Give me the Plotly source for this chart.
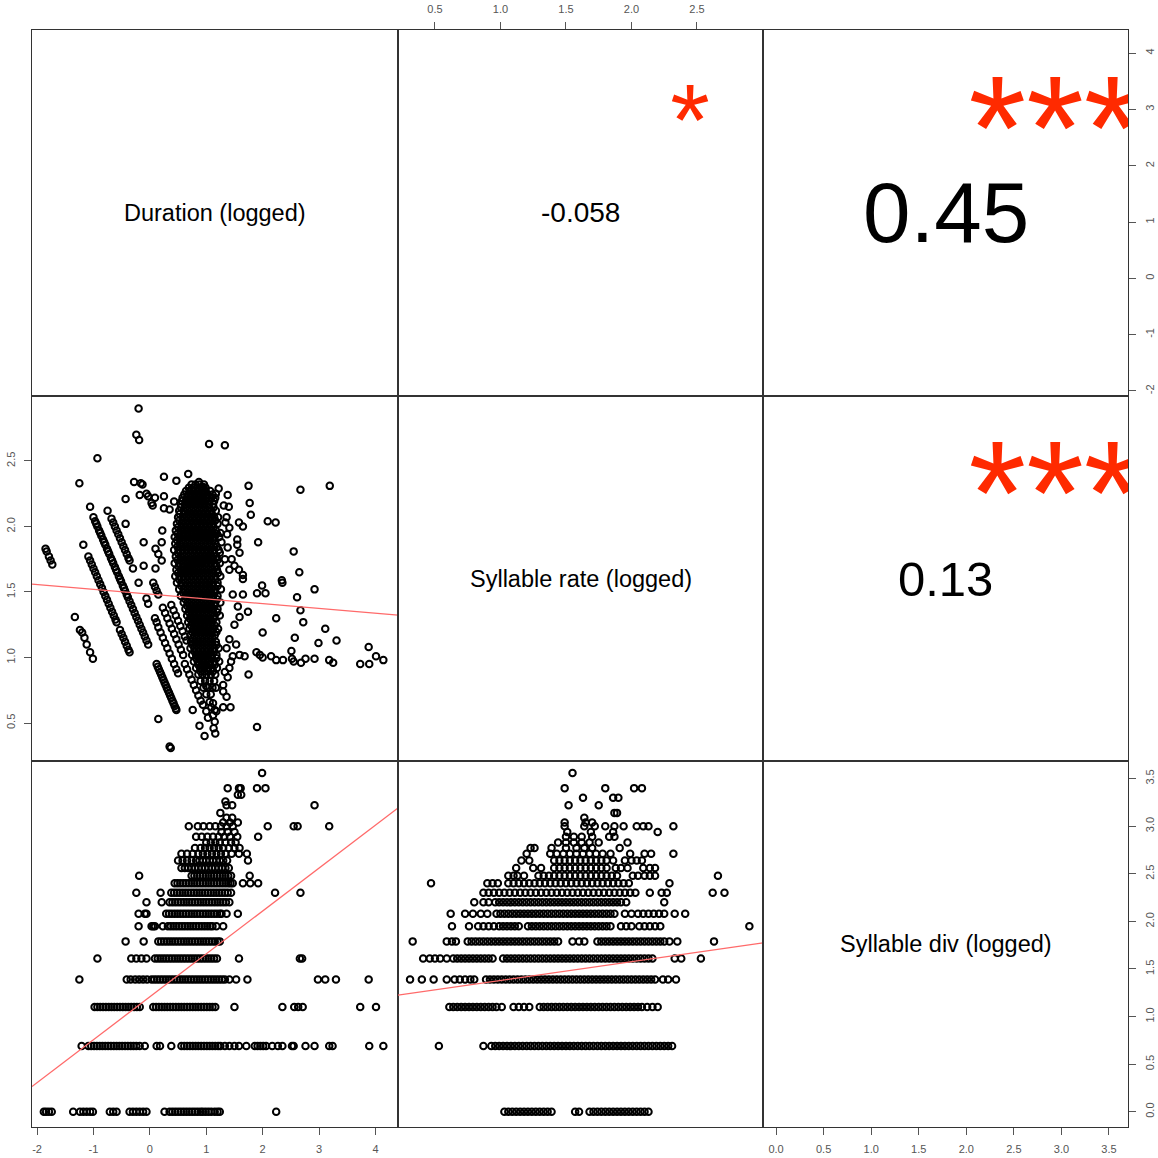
import plotly.graph_objects as go

# ---------------- labels / statistics ----------------
var_labels = ["Duration (logged)", "Syllable rate (logged)", "Syllable div (logged)"]
cor_cells = [(0, 1), (0, 2), (1, 2)]
cor_text = ["-0.058", "0.45", "0.13"]
cor_stars = ["*", "***", "***"]

dur_ticks = [-2, -1, 0, 1, 2, 3, 4]
dur_tick_text = ["-2", "-1", "0", "1", "2", "3", "4"]
rate_ticks = [0.5, 1.0, 1.5, 2.0, 2.5]
rate_tick_text = ["0.5", "1.0", "1.5", "2.0", "2.5"]
div_ticks = [0.0, 0.5, 1.0, 1.5, 2.0, 2.5, 3.0, 3.5]
div_tick_text = ["0.0", "0.5", "1.0", "1.5", "2.0", "2.5", "3.0", "3.5"]

# linear fits: [intercept, slope]
fit_rate_on_dur = [1.484, -0.0365]
fit_div_on_dur = [1.208, 0.4507]
fit_div_on_rate = [1.183, 0.197]

# ---------------- panel: duration (x) vs syllable rate (y) ----------------
left_runs = [(-1.85,1.83),(-1.83,1.81),(-1.79,1.77),(-1.76,1.74),(-1.73,1.71),
 (-1.33,1.31),(-1.24,1.21),(-1.20,1.19),(-1.16,1.15),(-1.12,1.10),(-1.06,1.04),(-1.01,0.99),
 (-1.09,1.77),(-1.06,1.74),(-1.03,1.71),(-1.00,1.68),(-0.97,1.65),(-0.94,1.62),(-0.91,1.59),(-0.88,1.56),(-0.85,1.53),(-0.82,1.50),(-0.79,1.47),(-0.76,1.44),(-0.73,1.41),(-0.70,1.38),(-0.67,1.35),(-0.64,1.32),(-0.61,1.29),(-0.59,1.27),
 (-0.53,1.21),(-0.50,1.18),(-0.47,1.15),(-0.44,1.12),(-0.41,1.09),(-0.38,1.06),(-0.36,1.04),
 (-1.00,2.07),(-0.97,2.04),(-0.95,2.02),(-0.93,2.00),(-0.90,1.97),(-0.88,1.95),(-0.86,1.93),(-0.83,1.90),(-0.81,1.88),(-0.79,1.86),(-0.76,1.83),(-0.74,1.81),(-0.72,1.79),(-0.69,1.76),(-0.67,1.74),(-0.65,1.72),(-0.62,1.69),(-0.60,1.67),(-0.58,1.65),(-0.55,1.62),(-0.53,1.60),(-0.51,1.58),(-0.48,1.55),(-0.46,1.53),(-0.44,1.51),(-0.41,1.48),(-0.39,1.46),(-0.36,1.43),(-0.33,1.40),(-0.30,1.37),(-0.27,1.34),(-0.24,1.31),(-0.21,1.28),(-0.18,1.25),(-0.15,1.22),(-0.12,1.19),(-0.09,1.16),(-0.06,1.13),(-0.03,1.10),
 (-0.68,2.06),(-0.65,2.03),(-0.62,2.00),(-0.59,1.97),(-0.56,1.94),(-0.53,1.91),(-0.50,1.88),(-0.47,1.85),(-0.44,1.82),(-0.41,1.79),(-0.38,1.76),(-0.36,1.74),(-0.30,1.68),(-0.06,1.45),(-0.03,1.41)]

lower_runs = [(0.09,1.30),(0.12,1.27),(0.15,1.23),(0.19,1.19),(0.23,1.15),(0.27,1.11),(0.31,1.07),(0.35,1.03),(0.39,0.99),(0.43,0.95),(0.47,0.91),(0.50,0.88),
 (0.06,1.57),(0.09,1.54),(0.12,1.51),(0.15,1.48),(0.23,1.38),(0.27,1.34),(0.31,1.30),(0.35,1.26),(0.39,1.22),(0.43,1.18),(0.47,1.14),(0.51,1.10),(0.55,1.06),(0.59,1.02),
 (0.38,1.40),(0.42,1.36),(0.46,1.32),(0.50,1.28),(0.54,1.24),(0.58,1.20),(0.62,1.16),(0.65,1.13),
 (0.12,0.95),(0.14,0.93),(0.16,0.91),(0.18,0.89),(0.20,0.87),(0.22,0.85),(0.24,0.83),(0.26,0.81),(0.28,0.79),(0.30,0.77),(0.32,0.75),(0.34,0.73),(0.36,0.71),(0.38,0.69),(0.40,0.67),(0.42,0.65),(0.44,0.63),(0.46,0.61),(0.47,0.60),
 (0.62,0.95),(0.66,0.91),(0.70,0.87),(0.74,0.83),(0.78,0.79),(0.82,0.75),(0.86,0.71),(0.90,0.67),(0.94,0.64),
 (1.06,0.66),(1.09,0.62),(1.12,0.56),(1.15,0.51)]

upper_singles = [(-1.25,2.33),(-0.93,2.52),(-1.06,2.15),(-1.18,1.86),(-0.75,2.12),(-0.43,2.21),(-0.43,2.02),(-0.11,1.88),(-0.11,1.70),(-0.20,2.90),(-0.24,2.70),(-0.19,2.66),(1.05,2.63),(1.33,2.62),(-0.28,2.34),(-0.16,2.33),(-0.13,2.32),(-0.18,2.24),(-0.06,2.25),(-0.03,2.23),(0.03,2.18),(0.09,2.22),(0.05,2.16),(0.25,2.38),(0.47,2.35),(0.68,2.40),(0.87,2.34),(0.94,2.30),(0.25,2.23),(0.22,1.97),(0.21,1.88),(0.10,1.83),(0.15,1.79),(0.21,1.74),(0.10,1.68),(0.43,2.19),(0.25,2.14),(0.35,2.13),(-0.20,1.57)]

lower_singles = [(0.76,0.60),(0.15,0.53),(0.35,0.32),(0.37,0.31),(0.88,0.48),(0.97,0.40),(1.00,0.59),(1.03,0.54),(1.13,0.46),(1.16,0.42),(1.43,0.62),(1.30,0.62),(1.15,0.60),(1.12,0.65),(1.18,0.59),(1.90,0.47)]

right_singles = [(1.75,2.31),(2.67,2.28),(3.19,2.31),(0.91,2.30),(0.95,2.30),(1.22,2.29),(1.17,2.25),(1.38,2.24),(1.77,2.18),(1.79,2.09),(1.31,2.16),(1.40,2.15),(1.21,2.07),(1.36,2.07),(1.34,2.03),(1.58,2.03),(1.65,2.00),(2.09,2.04),(2.23,2.03),(1.25,1.95),(1.37,1.94),(1.55,1.90),(1.55,1.86),(1.59,1.80),(1.92,1.88),(2.55,1.81),(1.45,1.75),(1.50,1.70),(1.58,1.67),(1.65,1.63),(2.65,1.65),(2.34,1.59),(1.65,1.60),(1.99,1.55),(1.90,1.49),(2.05,1.49),(2.35,1.57),(2.92,1.52),(2.61,1.46),(2.67,1.36),(1.74,1.35),(2.24,1.30),(2.72,1.27),(3.11,1.22),(2.00,1.19),(2.57,1.15),(2.99,1.11),(3.31,1.13),(3.88,1.08),(4.01,1.01),(4.14,0.98),(3.73,0.95),(3.89,0.95),
 (1.89,1.04),(1.95,1.02),(2.00,1.00),(2.15,1.01),(2.24,0.98),(2.36,0.98),(2.51,1.05),(2.52,0.99),(2.55,0.97),(2.68,0.96),(2.76,0.99),(2.92,0.99),(3.18,0.98),(3.25,0.96),(1.75,0.87),(1.59,1.02),(1.68,1.01),
 (1.47,1.01),(1.41,0.92),(1.33,0.89),(1.38,0.85),(1.30,0.79),(1.17,0.77),(1.30,0.74),(1.36,0.70),(1.00,0.78),
 (1.41,1.99),(1.27,1.88),(1.38,1.84),(1.24,1.80),(1.33,1.75),(1.18,1.70),(1.41,1.67),
 (1.47,1.48),(1.59,1.31),(1.50,1.25),(1.41,1.14),(1.53,1.10),(1.36,1.07),(1.44,0.97),(1.65,1.48),(1.56,1.39)]

# dense central cloud: rate value of each row and the durations on it
blob_rate = [2.32, 2.27, 2.22, 2.17, 2.12, 2.07, 2.02, 1.97, 1.92, 1.87, 1.82, 1.77, 1.72, 1.67, 1.62, 1.57,
             1.52, 1.47, 1.42, 1.37, 1.32, 1.27, 1.22, 1.17, 1.12, 1.07, 1.02, 0.97, 0.92, 0.87, 0.82, 0.77, 0.72]
blob_dur = [
 [0.74, 0.81, 0.88, 0.96],
 [0.64, 0.71, 0.78, 0.85, 0.92, 0.99, 1.07],
 [0.58, 0.66, 0.73, 0.80, 0.87, 0.94, 1.01, 1.09, 1.16],
 [0.55, 0.62, 0.69, 0.76, 0.83, 0.90, 0.97, 1.04, 1.12],
 [0.52, 0.60, 0.67, 0.74, 0.81, 0.88, 0.95, 1.02, 1.09, 1.17],
 [0.50, 0.58, 0.65, 0.72, 0.79, 0.86, 0.93, 1.00, 1.07, 1.14],
 [0.48, 0.56, 0.63, 0.70, 0.77, 0.84, 0.91, 0.98, 1.05, 1.12, 1.20],
 [0.46, 0.54, 0.61, 0.68, 0.75, 0.82, 0.89, 0.96, 1.03, 1.10, 1.17],
 [0.44, 0.52, 0.59, 0.66, 0.73, 0.80, 0.87, 0.94, 1.01, 1.08, 1.15, 1.23],
 [0.45, 0.53, 0.60, 0.67, 0.74, 0.81, 0.88, 0.95, 1.02, 1.09, 1.16],
 [0.43, 0.51, 0.58, 0.65, 0.72, 0.79, 0.86, 0.93, 1.00, 1.07, 1.14, 1.22],
 [0.46, 0.54, 0.61, 0.68, 0.75, 0.82, 0.89, 0.96, 1.03, 1.10, 1.18],
 [0.44, 0.52, 0.59, 0.66, 0.73, 0.80, 0.87, 0.94, 1.01, 1.08, 1.15, 1.24],
 [0.47, 0.55, 0.62, 0.69, 0.76, 0.83, 0.90, 0.97, 1.04, 1.11, 1.19],
 [0.45, 0.53, 0.60, 0.67, 0.74, 0.81, 0.88, 0.95, 1.02, 1.09, 1.16, 1.25],
 [0.48, 0.56, 0.63, 0.70, 0.77, 0.84, 0.91, 0.98, 1.05, 1.12, 1.20],
 [0.52, 0.60, 0.67, 0.74, 0.81, 0.88, 0.95, 1.02, 1.09, 1.16, 1.26],
 [0.55, 0.63, 0.70, 0.77, 0.84, 0.91, 0.98, 1.05, 1.12, 1.20],
 [0.60, 0.67, 0.74, 0.81, 0.88, 0.95, 1.02, 1.09, 1.16, 1.25],
 [0.63, 0.70, 0.77, 0.84, 0.91, 0.98, 1.05, 1.12, 1.20],
 [0.66, 0.73, 0.80, 0.87, 0.94, 1.01, 1.08, 1.15, 1.24],
 [0.68, 0.75, 0.82, 0.89, 0.96, 1.03, 1.10, 1.18],
 [0.70, 0.77, 0.84, 0.91, 0.98, 1.05, 1.12, 1.21],
 [0.72, 0.79, 0.86, 0.93, 1.00, 1.07, 1.15],
 [0.73, 0.80, 0.87, 0.94, 1.01, 1.08, 1.17],
 [0.72, 0.79, 0.86, 0.93, 1.00, 1.07, 1.14, 1.22],
 [0.75, 0.82, 0.89, 0.96, 1.03, 1.10, 1.18],
 [0.78, 0.85, 0.92, 0.99, 1.06, 1.14, 1.23],
 [0.82, 0.89, 0.96, 1.03, 1.11, 1.19],
 [0.86, 0.93, 1.00, 1.08, 1.16],
 [0.90, 0.98, 1.06, 1.14],
 [0.95, 1.03, 1.11],
 [1.00, 1.08],
]
# in-between rows of the same cloud
blob_rate_b = [2.295, 2.245, 2.195, 2.145, 2.095, 2.045, 1.995, 1.945, 1.895, 1.845, 1.795, 1.745, 1.695, 1.645,
               1.595, 1.545, 1.495, 1.445, 1.395, 1.345, 1.295, 1.245, 1.195, 1.145, 1.095, 1.045, 0.995, 0.945, 0.895]
blob_dur_b = [
 [0.69, 0.77, 0.84, 0.91, 0.99],
 [0.61, 0.68, 0.75, 0.82, 0.89, 0.96, 1.03, 1.11],
 [0.57, 0.64, 0.71, 0.78, 0.85, 0.92, 0.99, 1.06, 1.14],
 [0.55, 0.63, 0.70, 0.77, 0.84, 0.91, 0.98, 1.05, 1.13],
 [0.53, 0.61, 0.68, 0.75, 0.82, 0.89, 0.96, 1.03, 1.10],
 [0.52, 0.59, 0.66, 0.73, 0.80, 0.87, 0.94, 1.01, 1.08, 1.16],
 [0.50, 0.57, 0.64, 0.71, 0.78, 0.85, 0.92, 0.99, 1.06, 1.13],
 [0.49, 0.56, 0.63, 0.70, 0.77, 0.84, 0.91, 0.98, 1.05, 1.12, 1.19],
 [0.48, 0.56, 0.63, 0.70, 0.77, 0.84, 0.91, 0.98, 1.05, 1.12],
 [0.49, 0.57, 0.64, 0.71, 0.78, 0.85, 0.92, 0.99, 1.06, 1.13, 1.19],
 [0.50, 0.58, 0.65, 0.72, 0.79, 0.86, 0.93, 1.00, 1.07, 1.14],
 [0.49, 0.56, 0.63, 0.70, 0.77, 0.84, 0.91, 0.98, 1.05, 1.12, 1.20],
 [0.51, 0.59, 0.66, 0.73, 0.80, 0.87, 0.94, 1.01, 1.08, 1.15],
 [0.50, 0.57, 0.64, 0.71, 0.78, 0.85, 0.92, 0.99, 1.06, 1.13, 1.21],
 [0.52, 0.60, 0.67, 0.74, 0.81, 0.88, 0.95, 1.02, 1.09, 1.16],
 [0.56, 0.63, 0.70, 0.77, 0.84, 0.91, 0.98, 1.05, 1.12, 1.20],
 [0.59, 0.66, 0.73, 0.80, 0.87, 0.94, 1.01, 1.08, 1.15],
 [0.63, 0.70, 0.77, 0.84, 0.91, 0.98, 1.05, 1.12, 1.19],
 [0.66, 0.73, 0.80, 0.87, 0.94, 1.01, 1.08, 1.15],
 [0.69, 0.76, 0.83, 0.90, 0.97, 1.04, 1.11, 1.19],
 [0.71, 0.78, 0.85, 0.92, 0.99, 1.06, 1.13],
 [0.73, 0.80, 0.87, 0.94, 1.01, 1.08, 1.15],
 [0.75, 0.82, 0.89, 0.96, 1.03, 1.10, 1.18],
 [0.76, 0.83, 0.90, 0.97, 1.04, 1.11],
 [0.76, 0.83, 0.90, 0.97, 1.04, 1.11, 1.18],
 [0.79, 0.86, 0.93, 1.00, 1.07, 1.14],
 [0.82, 0.89, 0.96, 1.03, 1.10, 1.18],
 [0.86, 0.93, 1.00, 1.07, 1.15],
 [0.90, 0.97, 1.04, 1.12],
]

# ---------------- panel: duration (x) vs syllable div (y) ----------------
dd_levels = [0.00, 0.69, 1.10, 1.39, 1.61, 1.79, 1.95, 2.08, 2.20, 2.30, 2.40, 2.48, 2.56, 2.64,
             2.71, 2.77, 2.83, 2.89, 2.94, 3.00, 3.04, 3.09, 3.14, 3.22, 3.26, 3.33, 3.40, 3.56]
dd_dur = [
 [-1.88,-1.84,-1.79,-1.74,-1.36,-1.24,-1.18,-1.12,-1.06,-1.01,-0.71,-0.65,-0.59,-0.36,-0.30,-0.24,-0.18,-0.12,-0.06,0.26,0.35,0.40,0.45,0.50,0.55,0.60,0.65,0.70,0.75,0.80,0.85,0.90,0.94,0.99,1.04,1.09,1.15,1.20,1.24,2.24],
 [-1.21,-1.09,-1.04,-0.99,-0.94,-0.89,-0.84,-0.79,-0.74,-0.69,-0.64,-0.59,-0.54,-0.49,-0.44,-0.39,-0.34,-0.29,-0.24,-0.18,-0.09,0.12,0.18,0.38,0.56,0.61,0.66,0.71,0.76,0.81,0.86,0.91,0.96,1.01,1.06,1.11,1.16,1.21,1.25,1.33,1.41,1.50,1.58,1.71,1.86,1.91,1.96,2.01,2.06,2.17,2.27,2.35,2.52,2.55,2.76,2.92,3.18,3.24,3.89,4.14],
 [-0.98,-0.93,-0.88,-0.83,-0.78,-0.73,-0.68,-0.63,-0.58,-0.53,-0.48,-0.43,-0.38,-0.33,-0.28,-0.23,-0.18,0.06,0.11,0.16,0.21,0.26,0.31,0.36,0.41,0.46,0.51,0.56,0.61,0.66,0.71,0.76,0.81,0.86,0.91,0.96,1.01,1.06,1.11,1.16,1.50,2.35,2.56,2.63,2.71,3.73,4.01],
 [-1.25,-0.41,-0.34,-0.26,-0.19,-0.12,-0.05,0.03,0.08,0.13,0.18,0.23,0.28,0.33,0.38,0.43,0.48,0.53,0.58,0.63,0.68,0.73,0.78,0.83,0.88,0.93,0.98,1.03,1.08,1.13,1.18,1.23,1.28,1.33,1.41,1.53,1.73,2.98,3.11,3.30,3.88],
 [-0.93,-0.33,-0.24,-0.15,-0.06,0.09,0.14,0.19,0.24,0.29,0.34,0.39,0.44,0.49,0.54,0.59,0.64,0.69,0.74,0.79,0.84,0.89,0.94,0.99,1.04,1.09,1.14,1.19,1.58,2.66,2.70],
 [-0.43,-0.11,0.15,0.20,0.25,0.30,0.35,0.40,0.45,0.50,0.55,0.60,0.65,0.70,0.75,0.80,0.85,0.90,0.95,1.00,1.05,1.10,1.15,1.20,1.24],
 [-0.20,0.03,0.06,0.09,0.23,0.32,0.37,0.42,0.47,0.52,0.57,0.62,0.67,0.72,0.77,0.82,0.87,0.92,0.97,1.02,1.07,1.11,1.18,1.30],
 [-0.20,-0.09,-0.06,0.29,0.34,0.39,0.44,0.49,0.54,0.59,0.64,0.69,0.74,0.79,0.84,0.89,0.94,0.99,1.04,1.09,1.14,1.19,1.24,1.27,1.36,1.56],
 [-0.06,0.21,0.35,0.40,0.45,0.50,0.55,0.60,0.65,0.70,0.75,0.80,0.85,0.90,0.95,1.00,1.05,1.10,1.15,1.20,1.25,1.30,1.35,1.41],
 [-0.24,0.19,0.38,0.43,0.48,0.53,0.58,0.63,0.68,0.73,0.78,0.83,0.88,0.93,0.98,1.03,1.08,1.13,1.18,1.23,1.28,1.33,1.38,1.44,2.22,2.67],
 [0.44,0.49,0.54,0.59,0.64,0.69,0.74,0.79,0.84,0.89,0.94,0.99,1.04,1.09,1.14,1.19,1.24,1.29,1.34,1.39,1.43,1.47,1.65,1.78,1.92],
 [-0.19,0.74,0.79,0.84,0.89,0.94,0.99,1.04,1.09,1.14,1.19,1.24,1.29,1.34,1.39,1.44,1.77],
 [0.56,0.62,0.68,0.74,0.80,0.86,0.92,0.98,1.04,1.10,1.16,1.22,1.28,1.34,1.40],
 [0.50,0.58,0.66,0.74,0.82,0.88,0.94,1.00,1.06,1.12,1.18,1.24,1.30,1.37,1.74],
 [0.56,0.66,0.76,0.86,0.94,1.02,1.10,1.18,1.26,1.34,1.45,1.58,1.72],
 [0.80,0.90,0.98,1.06,1.14,1.22,1.30,1.40,1.50,1.59],
 [1.00,1.08,1.16,1.24,1.34,1.44,1.52],
 [0.82,0.92,1.02,1.12,1.22,1.32,1.42,1.55,1.92],
 [1.27,1.38,1.50],
 [0.69,0.85,0.95,1.06,1.16,1.26,1.36,1.47,2.09,2.55,2.62,3.18],
 [1.30,1.42,1.56],
 [1.36,1.46],
 [1.25],
 [1.36,1.46,2.92],
 [1.34],
 [1.56,1.62],
 [1.38,1.58,1.61,1.90,2.05],
 [1.99],
]

# ---------------- panel: syllable rate (x) vs syllable div (y) ----------------
rd_levels = [0.00, 0.69, 1.10, 1.39, 1.61, 1.79, 1.95, 2.08, 2.20, 2.30, 2.40, 2.48, 2.56, 2.64,
             2.71, 2.77, 2.83, 2.89, 2.94, 3.00, 3.04, 3.09, 3.14, 3.22, 3.30, 3.40, 3.56]
rd_rate = [
 [1.03,1.06,1.09,1.12,1.15,1.18,1.21,1.24,1.27,1.30,1.33,1.36,1.39,1.57,1.60,1.68,1.71,1.74,1.77,1.80,1.83,1.86,1.89,1.92,1.95,1.98,2.01,2.04,2.07,2.10,2.13],
 [0.53,0.87,0.93,0.96,0.99,1.02,1.05,1.08,1.11,1.14,1.17,1.20,1.23,1.26,1.29,1.32,1.35,1.38,1.41,1.44,1.47,1.50,1.53,1.56,1.59,1.62,1.65,1.68,1.71,1.74,1.77,1.80,1.83,1.86,1.89,1.92,1.95,1.98,2.01,2.04,2.07,2.10,2.13,2.16,2.19,2.22,2.25,2.28,2.31],
 [0.61,0.64,0.67,0.70,0.73,0.76,0.79,0.82,0.85,0.88,0.91,0.94,0.97,1.01,1.10,1.14,1.18,1.22,1.30,1.33,1.36,1.39,1.42,1.45,1.48,1.51,1.54,1.57,1.60,1.63,1.66,1.69,1.72,1.75,1.78,1.81,1.84,1.87,1.90,1.93,1.96,1.99,2.02,2.05,2.08,2.12,2.16,2.20],
 [0.31,0.40,0.49,0.59,0.65,0.69,0.73,0.77,0.80,0.89,0.92,0.95,0.98,1.01,1.04,1.07,1.10,1.13,1.16,1.19,1.22,1.25,1.28,1.31,1.34,1.37,1.40,1.43,1.46,1.49,1.52,1.55,1.58,1.61,1.64,1.67,1.70,1.73,1.76,1.79,1.82,1.85,1.88,1.91,1.94,1.97,2.00,2.03,2.06,2.09,2.12,2.15,2.18,2.24,2.28,2.34],
 [0.41,0.46,0.50,0.54,0.59,0.64,0.67,0.70,0.73,0.76,0.79,0.82,0.85,0.88,0.91,0.94,1.02,1.05,1.08,1.11,1.14,1.17,1.20,1.23,1.26,1.29,1.32,1.35,1.38,1.41,1.44,1.47,1.50,1.53,1.56,1.59,1.62,1.65,1.68,1.71,1.74,1.77,1.80,1.83,1.86,1.89,1.92,1.95,1.98,2.01,2.04,2.07,2.10,2.13,2.16,2.33,2.38,2.53],
 [0.33,0.59,0.63,0.66,0.75,0.78,0.81,0.84,0.87,0.90,0.93,0.96,0.99,1.02,1.05,1.08,1.11,1.14,1.17,1.20,1.23,1.26,1.29,1.32,1.35,1.38,1.41,1.44,1.55,1.60,1.64,1.74,1.77,1.80,1.83,1.86,1.89,1.92,1.95,1.98,2.01,2.04,2.07,2.10,2.13,2.16,2.19,2.22,2.25,2.29,2.35,2.63],
 [0.63,0.76,0.83,0.87,0.91,0.95,0.99,1.02,1.05,1.08,1.11,1.14,1.21,1.24,1.27,1.30,1.33,1.36,1.39,1.42,1.45,1.48,1.51,1.54,1.57,1.60,1.63,1.66,1.69,1.72,1.75,1.78,1.81,1.84,1.92,1.96,2.00,2.06,2.10,2.14,2.18,2.22,2.90],
 [0.62,0.73,0.79,0.85,0.90,0.97,1.00,1.03,1.06,1.09,1.12,1.15,1.18,1.21,1.24,1.27,1.30,1.33,1.36,1.39,1.42,1.45,1.48,1.51,1.54,1.57,1.60,1.63,1.66,1.69,1.72,1.75,1.78,1.81,1.84,1.87,1.95,2.00,2.05,2.09,2.13,2.17,2.21,2.25,2.33,2.41],
 [0.80,0.87,0.91,0.96,0.99,1.02,1.05,1.08,1.11,1.14,1.17,1.20,1.23,1.26,1.29,1.32,1.35,1.38,1.41,1.44,1.47,1.50,1.53,1.56,1.59,1.62,1.65,1.68,1.71,1.74,1.77,1.80,1.83,1.86,1.89,1.92,1.96,2.25],
 [0.87,0.91,0.95,0.99,1.03,1.07,1.11,1.15,1.19,1.23,1.27,1.31,1.35,1.39,1.43,1.47,1.51,1.55,1.59,1.63,1.67,1.71,1.75,1.79,1.83,1.87,1.91,1.95,1.99,2.03,2.14,2.23,2.27,2.62,2.71],
 [0.47,0.90,0.94,0.98,1.06,1.10,1.14,1.18,1.22,1.26,1.30,1.34,1.38,1.42,1.46,1.50,1.54,1.58,1.62,1.66,1.70,1.74,1.78,1.82,1.86,1.90,1.94,1.98,2.29],
 [1.06,1.10,1.13,1.18,1.29,1.33,1.37,1.41,1.45,1.49,1.53,1.57,1.61,1.65,1.69,1.73,1.77,1.81,1.85,1.89,2.01,2.05,2.10,2.14,2.18,2.66],
 [1.12,1.25,1.31,1.41,1.45,1.49,1.53,1.57,1.61,1.65,1.69,1.73,1.77,1.81,1.88,1.92,1.97,2.09,2.14,2.18],
 [1.16,1.22,1.41,1.45,1.49,1.53,1.57,1.61,1.65,1.69,1.73,1.77,1.81,1.86,1.95,2.00,2.04,2.08],
 [1.20,1.38,1.43,1.48,1.53,1.58,1.63,1.68,1.73,1.78,1.84,1.99,2.10,2.15,2.32],
 [1.23,1.26,1.39,1.50,1.58,1.64,1.70,1.91],
 [1.44,1.50,1.56,1.62,1.68,1.75,1.97],
 [1.50,1.56,1.62,1.70,1.83,1.87],
 [1.51,1.69,1.86,2.20],
 [1.49,1.64,1.72,1.80,1.87,1.94,2.04,2.09,2.13,2.32],
 [1.49,1.65,1.70],
 [1.64],
 [1.87,1.89],
 [1.52,1.75],
 [1.63,1.86,1.90],
 [1.49,1.80,2.02,2.08],
 [1.55],
]

# ---------------- layout geometry / styles ----------------
S = 1158
col_px = [32, 398, 763, 1128]
row_px = [30, 396, 761, 1127]
x_ranges = [[-2.09, 4.40], [0.218, 3.004], [-0.137, 3.70]]
y_ranges = [[-2.09, 4.41], [0.21, 2.996], [-0.16, 3.685]]
FONT = "Liberation Sans, Arial, Helvetica, sans-serif"
BOX = "#333333"
TICKC = "#555555"
STAR = "#FF2A00"
FIT = "#FF6A6A"
num_sizes = [28, 85.4, 49]
star_sizes = [101.6, 148, 148]

def pid(r, c):
    return r * 3 + c + 1

def xn(p):
    return "x" if p == 1 else f"x{p}"

def yn(p):
    return "y" if p == 1 else f"y{p}"

fig = go.Figure()
layout = dict(width=S, height=S, margin=dict(l=0, r=0, t=0, b=0, pad=0), showlegend=False,
              plot_bgcolor="white", paper_bgcolor="white", font=dict(family=FONT))

tick_style = dict(ticks="outside", ticklen=7, tickwidth=1, tickcolor=TICKC,
                  tickfont=dict(family=FONT, size=11, color=TICKC), showticklabels=True,
                  ticklabelstandoff=5)

for r in range(3):
    for c in range(3):
        p = pid(r, c)
        xa = dict(domain=[col_px[c] / S, col_px[c + 1] / S], range=x_ranges[c], anchor=yn(p),
                  showline=True, mirror=True, linecolor=BOX, linewidth=1, showgrid=False,
                  zeroline=False, showticklabels=False, ticks="")
        ya = dict(domain=[1 - row_px[r + 1] / S, 1 - row_px[r] / S], range=y_ranges[r], anchor=xn(p),
                  showline=True, mirror=True, linecolor=BOX, linewidth=1, showgrid=False,
                  zeroline=False, showticklabels=False, ticks="")
        layout["xaxis" if p == 1 else f"xaxis{p}"] = xa
        layout["yaxis" if p == 1 else f"yaxis{p}"] = ya
        # make sure every panel (also the empty diagonal ones) is drawn
        fig.add_trace(go.Scatter(x=[], y=[], mode="markers", xaxis=xn(p), yaxis=yn(p), hoverinfo="skip"))

# visible axes (R pairs style, alternating sides)
layout["xaxis2"].update(tick_style, side="top", tickvals=rate_ticks, ticktext=rate_tick_text)
layout["yaxis3"].update(tick_style, side="right", tickvals=dur_ticks, ticktext=dur_tick_text, tickangle=-90)
layout["yaxis4"].update(tick_style, side="left", tickvals=rate_ticks, ticktext=rate_tick_text, tickangle=-90)
layout["xaxis7"].update(tick_style, side="bottom", tickvals=dur_ticks, ticktext=dur_tick_text)
layout["xaxis9"].update(tick_style, side="bottom", tickvals=div_ticks, ticktext=div_tick_text)
layout["yaxis9"].update(tick_style, side="right", tickvals=div_ticks, ticktext=div_tick_text, tickangle=-90)

marker = dict(symbol="circle-open", size=6.5, color="black", line=dict(width=2.0, color="black"))

# panel (row 2, col 1)
pts = left_runs + lower_runs + upper_singles + lower_singles + right_singles
bx, by = [], []
for rates, durs_rows in [(blob_rate, blob_dur), (blob_rate_b, blob_dur_b)]:
    for rate, durs in zip(rates, durs_rows):
        for d in durs:
            bx.append(d)
            by.append(rate)
p = pid(1, 0)
fig.add_trace(go.Scatter(x=[a for a, b in pts] + bx, y=[b for a, b in pts] + by, mode="markers",
                         marker=marker, xaxis=xn(p), yaxis=yn(p), hoverinfo="skip"))

# panel (row 3, col 1)
xs, ys = [], []
for lev, durs in zip(dd_levels, dd_dur):
    for d in durs:
        xs.append(d)
        ys.append(lev)
p = pid(2, 0)
fig.add_trace(go.Scatter(x=xs, y=ys, mode="markers", marker=marker, xaxis=xn(p), yaxis=yn(p), hoverinfo="skip"))

# panel (row 3, col 2)
xs, ys = [], []
for lev, rates in zip(rd_levels, rd_rate):
    for v in rates:
        xs.append(v)
        ys.append(lev)
p = pid(2, 1)
fig.add_trace(go.Scatter(x=xs, y=ys, mode="markers", marker=marker, xaxis=xn(p), yaxis=yn(p), hoverinfo="skip"))

# fit lines
for (r, c), fit in zip([(1, 0), (2, 0), (2, 1)], [fit_rate_on_dur, fit_div_on_dur, fit_div_on_rate]):
    p = pid(r, c)
    lx = list(x_ranges[c])
    ly = [fit[0] + fit[1] * v for v in lx]
    fig.add_trace(go.Scatter(x=lx, y=ly, mode="lines", line=dict(color=FIT, width=1.3),
                             xaxis=xn(p), yaxis=yn(p), hoverinfo="skip"))

annotations = []
# diagonal labels
for i, lab in enumerate(var_labels):
    p = pid(i, i)
    annotations.append(dict(text=lab, xref=f"{xn(p)} domain", yref=f"{yn(p)} domain", x=0.5, y=0.5,
                            showarrow=False, font=dict(family=FONT, size=23.5, color="black"),
                            xanchor="center", yanchor="middle"))
# correlation numbers
for (r, c), txt, fs in zip(cor_cells, cor_text, num_sizes):
    p = pid(r, c)
    annotations.append(dict(text=txt, xref=f"{xn(p)} domain", yref=f"{yn(p)} domain", x=0.5, y=0.5,
                            showarrow=False, font=dict(family=FONT, size=fs, color="black"),
                            xanchor="center", yanchor="middle"))
# significance stars (clipped to the panel like the original)
for (r, c), txt, fs in zip(cor_cells, cor_stars, star_sizes):
    p = pid(r, c)
    xr, yr = x_ranges[c], y_ranges[r]
    panel_h = row_px[r + 1] - row_px[r]
    yfrac = 0.8 - 0.26 * fs / panel_h
    fig.add_trace(go.Scatter(x=[xr[0] + 0.8 * (xr[1] - xr[0])], y=[yr[0] + yfrac * (yr[1] - yr[0])],
                             mode="text", text=[txt], textposition="middle center",
                             textfont=dict(family=FONT, size=fs, color=STAR), cliponaxis=True,
                             xaxis=xn(p), yaxis=yn(p), hoverinfo="skip"))

layout["annotations"] = annotations
fig.update_layout(**layout)
fig.write_html("out.html", config={"displayModeBar": False},
               post_script="document.body.style.margin='0px';")
